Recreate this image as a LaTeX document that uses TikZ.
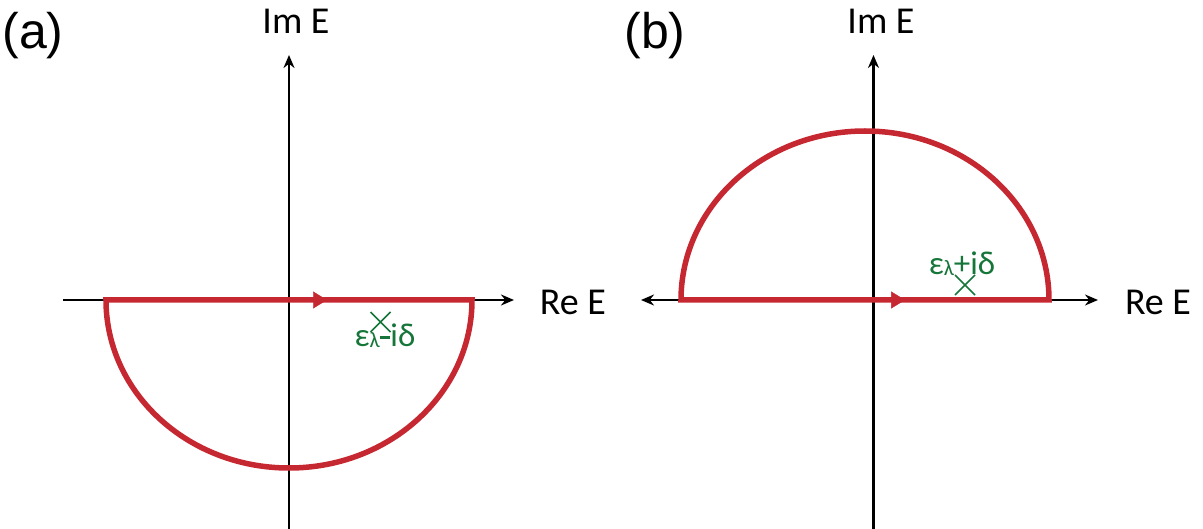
\documentclass[tikz,border=0pt]{standalone}
\usepackage{fontspec}
\setmainfont{Carlito}
\newfontfamily\arialf{Liberation Sans}
\usetikzlibrary{arrows.meta,decorations.markings,calc}
\definecolor{cred}{RGB}{198,40,50}
\definecolor{cgreen}{RGB}{22,118,58}
\begin{document}
\begin{tikzpicture}[x=1pt,y=1pt,
 axis/.style={line width=2.6pt,-{Stealth[length=13pt,width=11pt]}},
 axisboth/.style={line width=2.6pt,{Stealth[length=13pt,width=11pt]}-{Stealth[length=13pt,width=11pt]}},
 contour/.style={cred,line width=5.5pt,line join=miter},
 lab/.style={font=\fontsize{38}{42}\selectfont},
 panel/.style={font=\arialf\fontsize{50}{60}\selectfont},
 pole/.style={cgreen,line width=1.5pt},
 polelab/.style={cgreen,inner sep=0pt,font=\fontsize{33}{36}\selectfont}]
\path[use as bounding box] (0,0) rectangle (1203,-529);

% ---------- panel (a)
\coordinate (a-yb) at (289,-529);
\coordinate (a-yt) at (289,-55);
\coordinate (a-xl) at (63,-300);
\coordinate (a-xr) at (514,-300);
\coordinate (a-l) at (106,-300);
\coordinate (a-r) at (472,-300);
\draw[axis] (a-yb) -- (a-yt);
\draw[axis] (a-xl) -- (a-xr);
\draw[contour] (a-l) -- (a-r) arc[start angle=0,end angle=-180,x radius=183pt,y radius=168pt] -- cycle;
\path[postaction={decorate},decoration={markings,mark=at position 0.604 with {\arrow{Triangle[length=14pt,width=17pt,color=cred]}}}] (a-l) -- (a-r);
\node[panel] (a-tag) at (33,-36) {(a)};
\node[lab] (a-im) at (296,-21) {Im E};
\node[lab] (a-re) at (573,-302) {Re E};
\coordinate (a-p) at (380.5,-322);
\draw[pole] ($(a-p)+(-10,10)$) -- ($(a-p)+(10,-10)$) ($(a-p)+(-10,-10)$) -- ($(a-p)+(10,10)$);
\node[polelab] (a-pl) at (385,-336) {ε\raisebox{-1pt}{\fontsize{22}{24}\selectfont λ}\rule[0.24em]{0.32em}{0.09em}iδ};

% ---------- panel (b)
\coordinate (b-yb) at (873.5,-529);
\coordinate (b-yt) at (873.5,-55);
\coordinate (b-xl) at (641,-300);
\coordinate (b-xr) at (1098,-300);
\coordinate (b-l) at (681,-300);
\coordinate (b-r) at (1049,-300);
\draw[axis] (b-yb) -- (b-yt);
\draw[axisboth] (b-xl) -- (b-xr);
\draw[contour] (b-r) -- (b-l) arc[start angle=180,end angle=0,x radius=184pt,y radius=169pt] -- cycle;
\path[postaction={decorate},decoration={markings,mark=at position 0.609 with {\arrow{Triangle[length=14pt,width=17pt,color=cred]}}}] (b-l) -- (b-r);
\node[panel] (b-tag) at (655,-36) {(b)};
\node[lab] (b-im) at (881,-21) {Im E};
\node[lab] (b-re) at (1158,-302) {Re E};
\coordinate (b-p) at (965,-285);
\draw[pole] ($(b-p)+(-10,10)$) -- ($(b-p)+(10,-10)$) ($(b-p)+(-10,-10)$) -- ($(b-p)+(10,10)$);
\node[polelab] (b-pl) at (962,-264) {ε\raisebox{-1pt}{\fontsize{22}{24}\selectfont λ}+iδ};
\end{tikzpicture}
\end{document}
